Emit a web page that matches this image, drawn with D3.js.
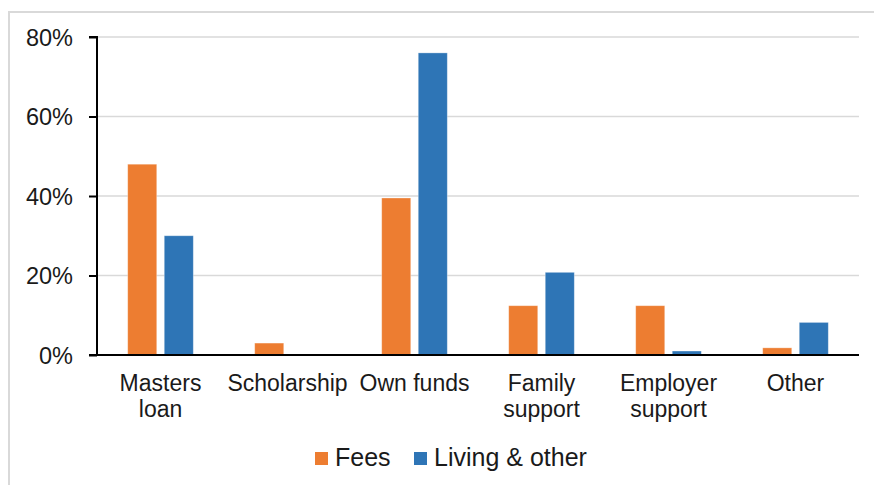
<!DOCTYPE html>
<meta charset="utf-8">
<style>
  body { margin: 0; background: #fff; }
  svg { display: block; font-family: "Liberation Sans", Arial, sans-serif; }
</style>
<body>
<svg width="874" height="485"></svg>
<script src="https://cdn.jsdelivr.net/npm/d3@7"></script>
<script>

// categories (line breaks where the chart wraps them)
var categories = ["Masters\nloan", "Scholarship", "Own funds", "Family\nsupport", "Employer\nsupport", "Other"];
var seriesNames = ["Fees", "Living & other"];
var fees   = [48, 3, 39.5, 12.4, 12.4, 1.8];
var living = [30, 0, 76, 20.8, 1.0, 8.2];
var yTicks = [0, 20, 40, 60, 80];
var colors = ["#ED7D31", "#2E75B6"];

var svg = d3.select("svg"),
    margin = {left: 97, right: 15, top: 37, bottom: 130},
    width = 874 - margin.left - margin.right,
    height = 485 - margin.top - margin.bottom;

// chart area frame, only the top and left edges show in the picture
svg.append("rect")
    .attr("x", 9).attr("y", 12)
    .attr("width", 900).attr("height", 500)
    .attr("fill", "none")
    .attr("stroke", "#d9d9d9")
    .attr("stroke-width", 2);

var g = svg.append("g").attr("transform", "translate(" + margin.left + "," + margin.top + ")");

var x0 = d3.scaleBand().domain(categories).range([0, width]).padding(0);
var x1 = d3.scaleBand().domain(seriesNames).range([0, x0.bandwidth()])
    .paddingInner(0.205).paddingOuter(0.84);
var y = d3.scaleLinear().domain([0, 80]).range([height, 0]);

// gridlines
g.selectAll(".grid").data(yTicks.slice(1)).enter().append("line")
    .attr("x1", 0).attr("x2", width)
    .attr("y1", function(d) { return y(d); })
    .attr("y2", function(d) { return y(d); })
    .attr("stroke", "#d9d9d9")
    .attr("stroke-width", 1.5);

// bars
var rows = categories.map(function(c, i) {
  return {cat: c, vals: [fees[i], living[i]]};
});

var groups = g.selectAll(".cat").data(rows).enter().append("g")
    .attr("transform", function(d) { return "translate(" + x0(d.cat) + ",0)"; });

groups.selectAll("rect")
    .data(function(d) { return d.vals.map(function(v, j) { return {s: seriesNames[j], v: v, j: j}; }); })
    .enter().filter(function(d) { return d.v > 0; }).append("rect")
    .attr("x", function(d) { return x1(d.s); })
    .attr("y", function(d) { return y(d.v); })
    .attr("width", x1.bandwidth())
    .attr("height", function(d) { return height - y(d.v); })
    .attr("fill", function(d) { return colors[d.j]; })
    .attr("stroke", "#fff")
    .attr("stroke-opacity", 0.4)
    .attr("stroke-width", 0.8);

// y axis
var yAxis = d3.axisLeft(y)
    .tickValues(yTicks)
    .tickSize(8)
    .tickPadding(16)
    .tickFormat(function(d) { return d + "%"; });

var ya = g.append("g").call(yAxis);
ya.select(".domain").attr("stroke", "#000").attr("stroke-width", 2).attr("d", "M-8,0H0V" + height + "H-8");
ya.selectAll(".tick line").attr("stroke", "#000").attr("stroke-width", 2);
ya.selectAll(".tick text")
    .attr("font-size", 23.5)
    .attr("font-family", "Liberation Sans, Arial, sans-serif")
    .attr("fill", "#1a1a1a")
    .attr("dy", "0.35em");

// x axis line
g.append("line")
    .attr("x1", -8).attr("x2", width)
    .attr("y1", height).attr("y2", height)
    .attr("stroke", "#000").attr("stroke-width", 2);

// category labels
var labels = g.selectAll(".xlab").data(categories).enter().append("text")
    .attr("text-anchor", "middle")
    .attr("font-size", 23)
    .attr("fill", "#1a1a1a")
    .attr("transform", function(d) { return "translate(" + (x0(d) + x0.bandwidth() / 2) + "," + (height + 36) + ")"; });

labels.selectAll("tspan")
    .data(function(d) { return d.split("\n"); })
    .enter().append("tspan")
    .attr("x", 0)
    .attr("dy", function(d, i) { return i === 0 ? 0 : 25.5; })
    .text(function(d) { return d; });

// legend
var legend = svg.append("g").attr("transform", "translate(315,466)");
var legX = [0, 99];
seriesNames.forEach(function(s, i) {
  var lg = legend.append("g").attr("transform", "translate(" + legX[i] + ",0)");
  lg.append("rect")
      .attr("x", 0).attr("y", -14)
      .attr("width", 13).attr("height", 13)
      .attr("fill", colors[i]);
  lg.append("text")
      .attr("x", 20).attr("y", 0)
      .attr("font-size", 25)
      .attr("fill", "#1a1a1a")
      .text(s);
});

</script>
</body>
